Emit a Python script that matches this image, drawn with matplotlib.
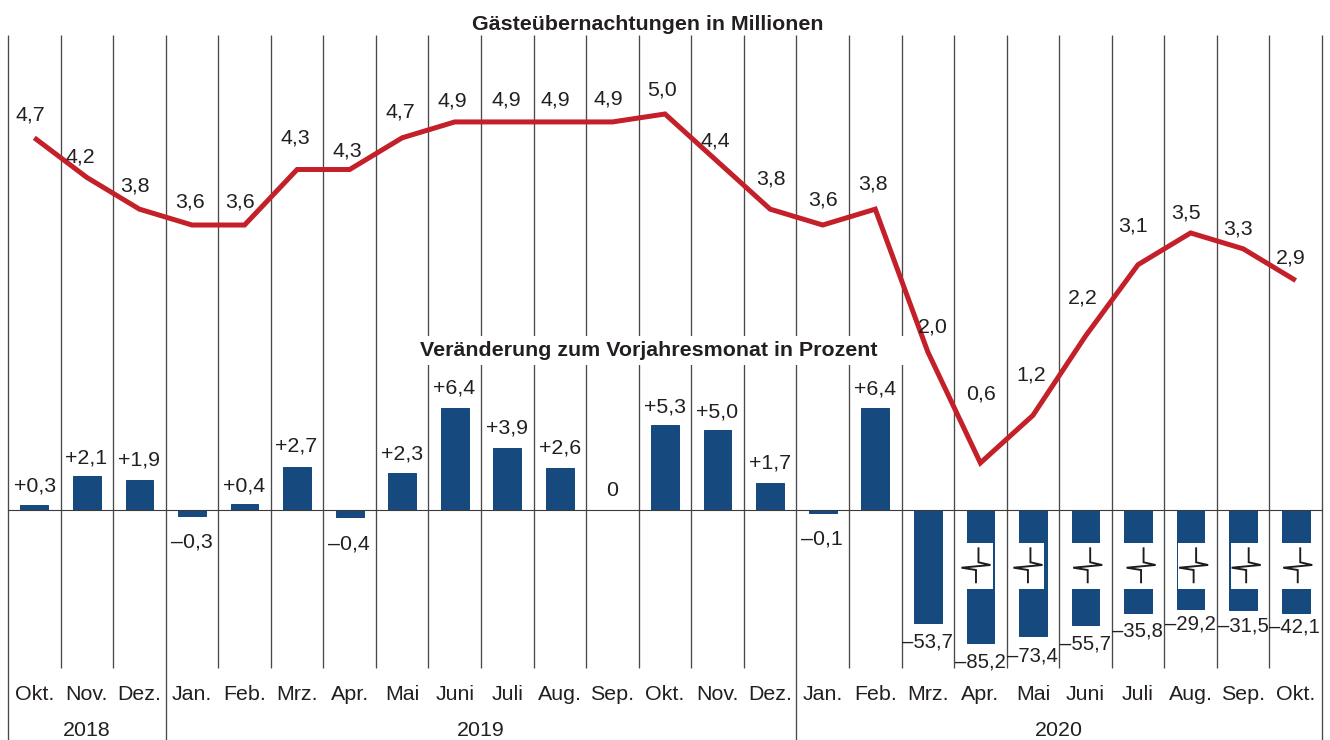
import numpy as np
import matplotlib
matplotlib.use("Agg")
import matplotlib.pyplot as plt
from matplotlib.patches import Rectangle

# ---- data ----
months = ["Okt.", "Nov.", "Dez.", "Jan.", "Feb.", "Mrz.", "Apr.", "Mai", "Juni", "Juli", "Aug.", "Sep.",
          "Okt.", "Nov.", "Dez.", "Jan.", "Feb.", "Mrz.", "Apr.", "Mai", "Juni", "Juli", "Aug.", "Sep.", "Okt."]
years = ["2018", "2019", "2020"]
nights = [4.7, 4.2, 3.8, 3.6, 3.6, 4.3, 4.3, 4.7, 4.9, 4.9, 4.9, 4.9, 5.0, 4.4, 3.8, 3.6, 3.8,
          2.0, 0.6, 1.2, 2.2, 3.1, 3.5, 3.3, 2.9]
change = [0.3, 2.1, 1.9, -0.3, 0.4, 2.7, -0.4, 2.3, 6.4, 3.9, 2.6, 0, 5.3, 5.0, 1.7, -0.1, 6.4,
          -53.7, -85.2, -73.4, -55.7, -35.8, -29.2, -31.5, -42.1]

# broken value axis of the bar panel: value -> drawn pixels from the zero line
scale_values = [-300, -85.2, -73.4, -55.7, -53.7, -42.1, -35.8, -31.5, -29.2, -1, -0.1, 0, 100]
scale_pixels = [-300, -133, -126, -115, -113, -103.4, -102.8, -100, -99, -16, -2.5, 0, 1600]

# ---- styling ----
W, H = 1330, 740
C_TEXT = "#231f20"
C_BAR = "#164a7e"
C_LINE = "#c4202a"
C_GRID = "#4a4a4a"
PX = 0.72
SANS = ["Liberation Sans", "DejaVu Sans"]
plt.rcParams["font.family"] = SANS
FS = 15.4
FS_NEG = 14.6

X0, DX = 34.3, 52.56
Y_ZERO = 510.0
# label offsets in pixels (dx, up)
line_dx = [-4, -6, -5, -2, -4.5, -2, -2, -2, -2, -1, -5, -4.5, -3, -2.5, 1, 0, -2, 5, .5, -2, -2.5, -5, -4.6, -5, -5]
line_up = [25, 22, 25, 25, 25, 33.5, 20.5, 28, 23, 24, 24, 25, 26, 22.6, 32, 27, 27, 27, 71, 42, 40, 41, 22, 22, 24.5]
bar_dx = [.7, -1, 0, 0, -.5, -1, -1, 0, -1, 0, 0, 0, 0, -.6, 0, -.7, 0, 0, 0, -1, 0, -1, 0, 0, -1]
bar_up = [21, 20.4, 21.6, -24, 19.6, 22.8, -24.6, 21, 21.6, 21.6, 22.4, 22, 20, 20, 21.8, -24.4, 20.6,
          -17.5, -17.5, -17.5, -16.5, -16.5, -12.5, -13.5, -11.5]

fig = plt.figure(figsize=(W / 100, H / 100), dpi=100, facecolor="white")


def full_axes(zorder):
    a = fig.add_axes([0, 0, 1, 1], zorder=zorder)
    a.patch.set_alpha(0)
    a.axis("off")
    return a


# pixel-space decoration layers
under = full_axes(1)
over = full_axes(5)
for a in (under, over):
    a.set_xlim(0, W)
    a.set_ylim(H, 0)

# grid
for i in range(26):
    x = 8 + (1322 - 8) * i / 25
    full = i in (0, 3, 15, 25)
    under.plot([x, x], [35, 740 if full else 668], color=C_GRID, lw=1.1 * PX * 1.2, solid_capstyle="butt")
under.add_patch(Rectangle((420, 336), 485, 29, fc="white", ec="none", zorder=5))

# bars
idx = np.arange(len(change))
ax_bar = full_axes(2)
fwd = lambda v: np.interp(v, scale_values, scale_pixels)
inv = lambda p: np.interp(p, scale_pixels, scale_values)
ax_bar.set_yscale("function", functions=(fwd, inv))
xlim = ((0 - X0) / DX, (W - X0) / DX)
ax_bar.set_xlim(*xlim)
ax_bar.set_ylim(inv(Y_ZERO - H), inv(Y_ZERO))
BAR_W = 27.7 / DX
ax_bar.bar(idx, change, width=BAR_W, color=C_BAR, edgecolor=C_BAR, linewidth=1 * PX)

# line
ax_line = full_axes(4)
ax_line.set_xlim(*xlim)
PER_UNIT = 79.3
ax_line.set_ylim(5 - (H - 114) / PER_UNIT, 5 + 114 / PER_UNIT)
ax_line.plot(idx, nights, color=C_LINE, lw=5 * PX, solid_joinstyle="miter", solid_capstyle="butt")

# axis break marks on the bars beyond the broken part
white_l = [-1, -1, 1, -1, 2, 1.7, .7]
white_r = [1.3, 3, -1, -1, -1, -1, -1]
glyph_dx = [-4.4, -5, 2.2, 3, 3, 3, 2]
gx = [2.5, 2.5, 14.5, -14.5, 0, 0]
gy = [548.3, 562.3, 565, 567.7, 570, 582.3]
for k, i in enumerate(range(18, 25)):
    c = X0 + DX * i
    over.add_patch(Rectangle((c - 14.35 + white_l[k], 543), 28.7 - white_l[k] - white_r[k], 46,
                             fc="white", ec="none", zorder=1))
    over.plot([c + glyph_dx[k] + g for g in gx], gy, color="#1c1c1c", lw=1.9 * PX,
              solid_joinstyle="miter", zorder=2)

# zero line
over.plot([8, 1322], [Y_ZERO, Y_ZERO], color="#3a3a3a", lw=1.1 * PX, zorder=3)


def fmt(v, signed=False):
    s = f"{abs(v):.1f}".replace(".", ",")
    if v == 0:
        return "0"
    if v < 0:
        return "\u2013" + s
    return ("+" + s) if signed else s


for i, v in enumerate(nights):
    ax_line.annotate(fmt(v), (i, v), xytext=(line_dx[i] * PX, (line_up[i] - 7.5) * PX),
                     textcoords="offset points", ha="center", va="baseline", fontsize=FS, color=C_TEXT,
                     annotation_clip=False, zorder=6)
for i, v in enumerate(change):
    big = v < -1
    ax_bar.annotate(fmt(v, True), (i, v), xytext=(bar_dx[i] * PX, (bar_up[i] - 7.5) * PX),
                    textcoords="offset points", ha="center", va="baseline",
                    fontsize=FS_NEG if big else FS, color=C_TEXT, annotation_clip=False)
for i, m in enumerate(months):
    ax_line.annotate(m, (i, 0), xycoords=("data", "figure pixels"), xytext=(0, (H - 700) * PX),
                     textcoords="offset points", ha="center", va="baseline", fontsize=FS, color=C_TEXT)

year_x = [(0 + 2) / 2, (3 + 14) / 2, (15 + 24) / 2]
for yx, y in zip(year_x, years):
    ax_line.annotate(y, (yx, 0), xycoords=("data", "figure pixels"), xytext=(0, (H - 736) * PX),
                     textcoords="offset points", ha="center", va="baseline", fontsize=FS, color=C_TEXT)

over.text(648, 29.5, "Gästeübernachtungen in Millionen", ha="center", va="baseline",
          fontsize=FS, fontweight="bold", color=C_TEXT)
over.text(648.5, 356.5, "Veränderung zum Vorjahresmonat in Prozent", ha="center", va="baseline",
          fontsize=FS, fontweight="bold", color=C_TEXT)

fig.savefig("out.png", dpi=100, facecolor="white")
